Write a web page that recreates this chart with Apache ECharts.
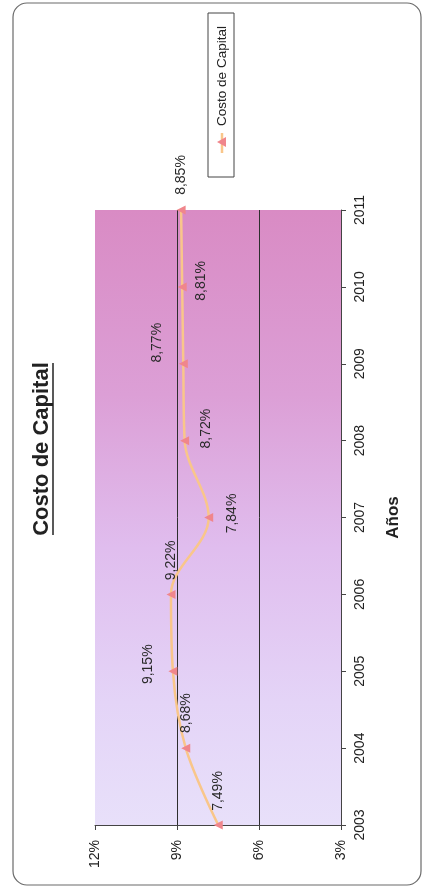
<!DOCTYPE html>
<html>
<head>
<meta charset="utf-8">
<script src="https://cdn.jsdelivr.net/npm/echarts@6/dist/echarts.min.js"></script>
<style>
  html, body { margin: 0; padding: 0; background: #ffffff; }
  #chart { width: 423px; height: 889px; }
</style>
</head>
<body>
<div id="chart"></div>
<script>
// Años y costo de capital (%)
const years = ['2003', '2004', '2005', '2006', '2007', '2008', '2009', '2010', '2011'];
const costoCapital = [7.49, 8.68, 9.15, 9.22, 7.84, 8.72, 8.77, 8.81, 8.85];
const percentTicks = [3, 6, 9, 12];

// Where each value label sits relative to its point, in screen pixels [dx, dy]
const labelShift = [
  [0, -34], [0, -35], [-25, -7], [0, -34], [23, -4],
  [21, -12], [-26, -21], [19, -6], [0, -35]
];

const FONT = '"Liberation Sans", Arial, sans-serif';
const fmtPct = v => v.toFixed(2).replace('.', ',') + '%';

// Labels are rotated 90°, so their offset is expressed in the rotated frame
const rotatedOffset = ([dx, dy]) => [-dy, dx];

const chart = echarts.init(document.getElementById('chart'));

const seriesData = years.map((y, i) => ({
  value: [costoCapital[i], y],
  label: { offset: rotatedOffset(labelShift[i]) }
}));

const option = {
  backgroundColor: '#ffffff',
  animation: false,
  grid: {
    left: 95, right: 82, top: 210, bottom: 64,
    show: true,
    borderWidth: 0,
    backgroundColor: new echarts.graphic.LinearGradient(0, 0, 0, 1, [
      { offset: 0, color: '#d98bc4' },
      { offset: 0.3, color: '#dc9fd6' },
      { offset: 0.55, color: '#e0bdee' },
      { offset: 0.8, color: '#e4d4f7' },
      { offset: 1, color: '#e8e0fa' }
    ])
  },
  xAxis: {
    type: 'value',
    inverse: true,
    min: percentTicks[0],
    max: percentTicks[percentTicks.length - 1],
    interval: percentTicks[1] - percentTicks[0],
    position: 'bottom',
    axisLine: { show: true, lineStyle: { color: '#444', width: 1 } },
    axisTick: { show: true, length: 5, lineStyle: { color: '#444' } },
    axisLabel: {
      rotate: 90, margin: 15, fontFamily: FONT, fontSize: 14, color: '#222',
      formatter: v => v + '%'
    },
    splitLine: {
      show: true, showMinLine: false, showMaxLine: false,
      lineStyle: { color: '#2e2e2e', width: 1 }
    }
  },
  yAxis: {
    type: 'category',
    data: years,
    boundaryGap: false,
    position: 'right',
    axisLine: { show: true, lineStyle: { color: '#444', width: 1 } },
    axisTick: { show: true, length: 5, lineStyle: { color: '#444' } },
    axisLabel: { rotate: 90, margin: 12, fontFamily: FONT, fontSize: 14, color: '#222' },
    splitLine: { show: false },
    name: 'Años',
    nameLocation: 'middle',
    nameRotate: 90,
    nameGap: 44,
    nameTextStyle: { fontFamily: FONT, fontSize: 17, fontWeight: 'bold', color: '#222' }
  },
  series: [{
    name: 'Costo de Capital',
    type: 'line',
    smooth: 0.35,
    data: seriesData,
    symbol: 'triangle',
    symbolSize: 9,
    symbolRotate: 90,
    lineStyle: { color: '#f9c68a', width: 2.5 },
    itemStyle: { color: '#f0868c' },
    label: {
      show: true,
      position: 'inside',
      rotate: 90,
      align: 'center',
      verticalAlign: 'middle',
      fontFamily: FONT,
      fontSize: 14,
      color: '#2a2a2a',
      formatter: p => fmtPct(p.value[0])
    }
  }],
  graphic: [
    // outer frame
    {
      type: 'rect', silent: true, z: -1,
      shape: { x: 13, y: 3, width: 408, height: 882, r: 14 },
      style: { fill: 'none', stroke: '#6a6a6a', lineWidth: 1.2 }
    },
    // title
    {
      type: 'text', x: 42, y: 449, rotation: Math.PI / 2,
      style: {
        text: 'Costo de Capital', font: 'bold 22px ' + FONT,
        textAlign: 'center', textVerticalAlign: 'middle', fill: '#222'
      }
    },
    {
      type: 'line', silent: true,
      shape: { x1: 53, y1: 363, x2: 53, y2: 535 },
      style: { stroke: '#222', lineWidth: 1.5 }
    },
    // legend box
    {
      type: 'rect', silent: true,
      shape: { x: 208, y: 13, width: 26, height: 164 },
      style: { fill: '#ffffff', stroke: '#444', lineWidth: 1 }
    },
    {
      type: 'line', silent: true,
      shape: { x1: 222, y1: 133, x2: 222, y2: 153 },
      style: { stroke: '#f9c68a', lineWidth: 2.5 }
    },
    {
      type: 'polygon', silent: true,
      shape: { points: [[217, 142], [226, 137], [226, 147]] },
      style: { fill: '#f0868c' }
    },
    {
      type: 'text', x: 222, y: 76, rotation: Math.PI / 2,
      style: {
        text: 'Costo de Capital', font: '13.5px ' + FONT,
        textAlign: 'center', textVerticalAlign: 'middle', fill: '#222'
      }
    }
  ]
};

chart.setOption(option);
</script>
</body>
</html>
